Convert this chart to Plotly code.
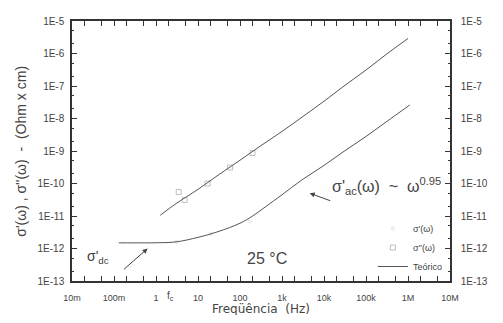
import plotly.graph_objects as go

# ---- data ----
freq_sig1_theo = [0.13, 0.3, 1, 3, 10, 30, 100, 200, 400, 1e3, 3e3, 1e4, 3e4, 1e5, 3e5, 1.1e6]
sig1_theo = [1.49e-12, 1.49e-12, 1.5e-12, 1.6e-12, 2.2e-12, 3.3e-12, 6.0e-12, 1.0e-11, 1.9e-11,
             4.5e-11, 1.3e-10, 3.6e-10, 9.8e-10, 2.8e-9, 7.8e-9, 2.6e-8]

freq_sig2_theo = [1.26, 3, 10, 30, 100, 300, 1e3, 3e3, 1e4, 3e4, 1e5, 3e5, 1e6]
sig2_theo = [1.05e-11, 2.4e-11, 6.6e-11, 1.8e-10, 5.2e-10, 1.4e-9, 4.0e-9, 1.1e-8,
             3.4e-8, 1.0e-7, 3.1e-7, 9.3e-7, 2.9e-6]

freq_sig1_data = [3.1, 20, 168]
sig1_data = [1.6e-12, 2.8e-12, 6.8e-12]

freq_sig2_data = [3.47, 4.8, 17, 58, 198]
sig2_data = [5.5e-11, 3.1e-11, 1.0e-10, 3.1e-10, 8.7e-10]

x_tickvals = [0.01, 0.1, 1, 10, 100, 1e3, 1e4, 1e5, 1e6, 1e7]
x_ticktext = ["10m", "100m", "1", "10", "100", "1k", "10k", "100k", "1M", "10M"]
y_tickvals = [1e-13, 1e-12, 1e-11, 1e-10, 1e-9, 1e-8, 1e-7, 1e-6, 1e-5]
y_ticktext = ["1E-13", "1E-12", "1E-11", "1E-10", "1E-9", "1E-8", "1E-7", "1E-6", "1E-5"]

FONT = "Liberation Sans"
TXT = "#444444"
AX = "#333333"

fig = go.Figure()
fig.add_trace(go.Scatter(x=freq_sig1_data, y=sig1_data, mode="markers", name="σ'(ω)",
                         marker=dict(symbol="circle-open", size=3, color="#cccccc", line=dict(width=0.6))))
fig.add_trace(go.Scatter(x=freq_sig2_data, y=sig2_data, mode="markers", name="σ''(ω)",
                         marker=dict(symbol="square-open", size=5, color="#b0b0b0", line=dict(width=0.8))))
fig.add_trace(go.Scatter(x=freq_sig1_theo, y=sig1_theo, mode="lines", name="Teórico",
                         line=dict(color="#555555", width=1, shape="spline", smoothing=1)))
fig.add_trace(go.Scatter(x=freq_sig2_theo, y=sig2_theo, mode="lines", showlegend=False,
                         line=dict(color="#555555", width=1, shape="spline", smoothing=1)))
# invisible trace so the right axis is drawn
fig.add_trace(go.Scatter(x=[freq_sig2_theo[-1]], y=[sig2_theo[-1]], yaxis="y2", mode="markers",
                         marker=dict(opacity=0), showlegend=False, hoverinfo="skip"))

axis_common = dict(showgrid=False, zeroline=False, showline=True, linecolor=AX, linewidth=1.5,
                   ticks="inside", ticklen=5, tickcolor=AX, tickwidth=1,
                   minor=dict(ticks="inside", ticklen=2.5, tickcolor=AX, tickwidth=0.8))

# page body has an 8px margin on every side: 8 + 487 + 8 = 503, 8 + 307 + 8 = 323
fig.update_layout(
    width=487, height=307,
    margin=dict(l=64, r=33, t=7, b=34),
    paper_bgcolor="white", plot_bgcolor="white",
    xaxis=dict(type="log", range=[-2, 7], tickvals=x_tickvals, ticktext=x_ticktext,
               mirror="allticks", ticklabelstandoff=7,
               tickfont=dict(family=FONT, size=9, color=TXT), **axis_common),
    yaxis=dict(type="log", range=[-13, -5], tickvals=y_tickvals, ticktext=y_ticktext,
               ticklabelstandoff=4, tickfont=dict(family=FONT, size=10, color=TXT), **axis_common),
    yaxis2=dict(type="log", range=[-13, -5], tickvals=y_tickvals, ticktext=y_ticktext,
                overlaying="y", side="right", ticklabelstandoff=7,
                tickfont=dict(family=FONT, size=10, color=TXT), **axis_common),
    legend=dict(x=0.796, y=0.0, xanchor="left", yanchor="bottom", bgcolor="rgba(0,0,0,0)",
                font=dict(family=FONT, size=9, color=TXT), tracegroupgap=0, itemwidth=30),
    showlegend=True,
)

ann = []
ann.append(dict(text="Freqüência  (Hz)", xref="paper", yref="paper", x=0.5, y=-0.107,
                showarrow=False, font=dict(family="DejaVu Sans", size=12, color=TXT), yanchor="middle"))
ann.append(dict(text="σ'(ω) , σ''(ω)  -  (Ohm x cm)", xref="paper", yref="paper", x=-0.162, y=0.5,
                textangle=-90, showarrow=False, font=dict(family=FONT, size=14, color=TXT)))
ann.append(dict(text="25 °C", xref="paper", yref="paper", x=0.515, y=0.046,
                showarrow=False, font=dict(family=FONT, size=16, color=TXT)))
ann.append(dict(text="f<sub>c</sub>", xref="x", yref="paper", x=0.356, y=-0.09,
                showarrow=False, font=dict(family=FONT, size=10, color=TXT)))
ann.append(dict(text="σ'<sub>dc</sub>", xref="paper", yref="paper", x=0.035, y=0.05,
                showarrow=False, font=dict(family=FONT, size=14, color=TXT)))
ann.append(dict(text="", x=-0.2, y=-12.0, xref="x", yref="y", ax=-25, ay=22,
                showarrow=True, arrowhead=2, arrowsize=1, arrowwidth=1, arrowcolor=TXT))
ann.append(dict(text="", x=3.66, y=-10.3, xref="x", yref="y", ax=22, ay=8,
                showarrow=True, arrowhead=2, arrowsize=1, arrowwidth=1, arrowcolor=TXT))
ann.append(dict(text="σ'<sub>ac</sub>(ω)  ~  ω<sup>0.95</sup>", xref="paper", yref="paper",
                x=(338 - 72) / 390, y=(281 - 184) / 266, xanchor="left", yanchor="middle",
                showarrow=False, font=dict(family=FONT, size=16, color=TXT)))
fig.update_layout(annotations=ann)

fig.write_html("out.html")
